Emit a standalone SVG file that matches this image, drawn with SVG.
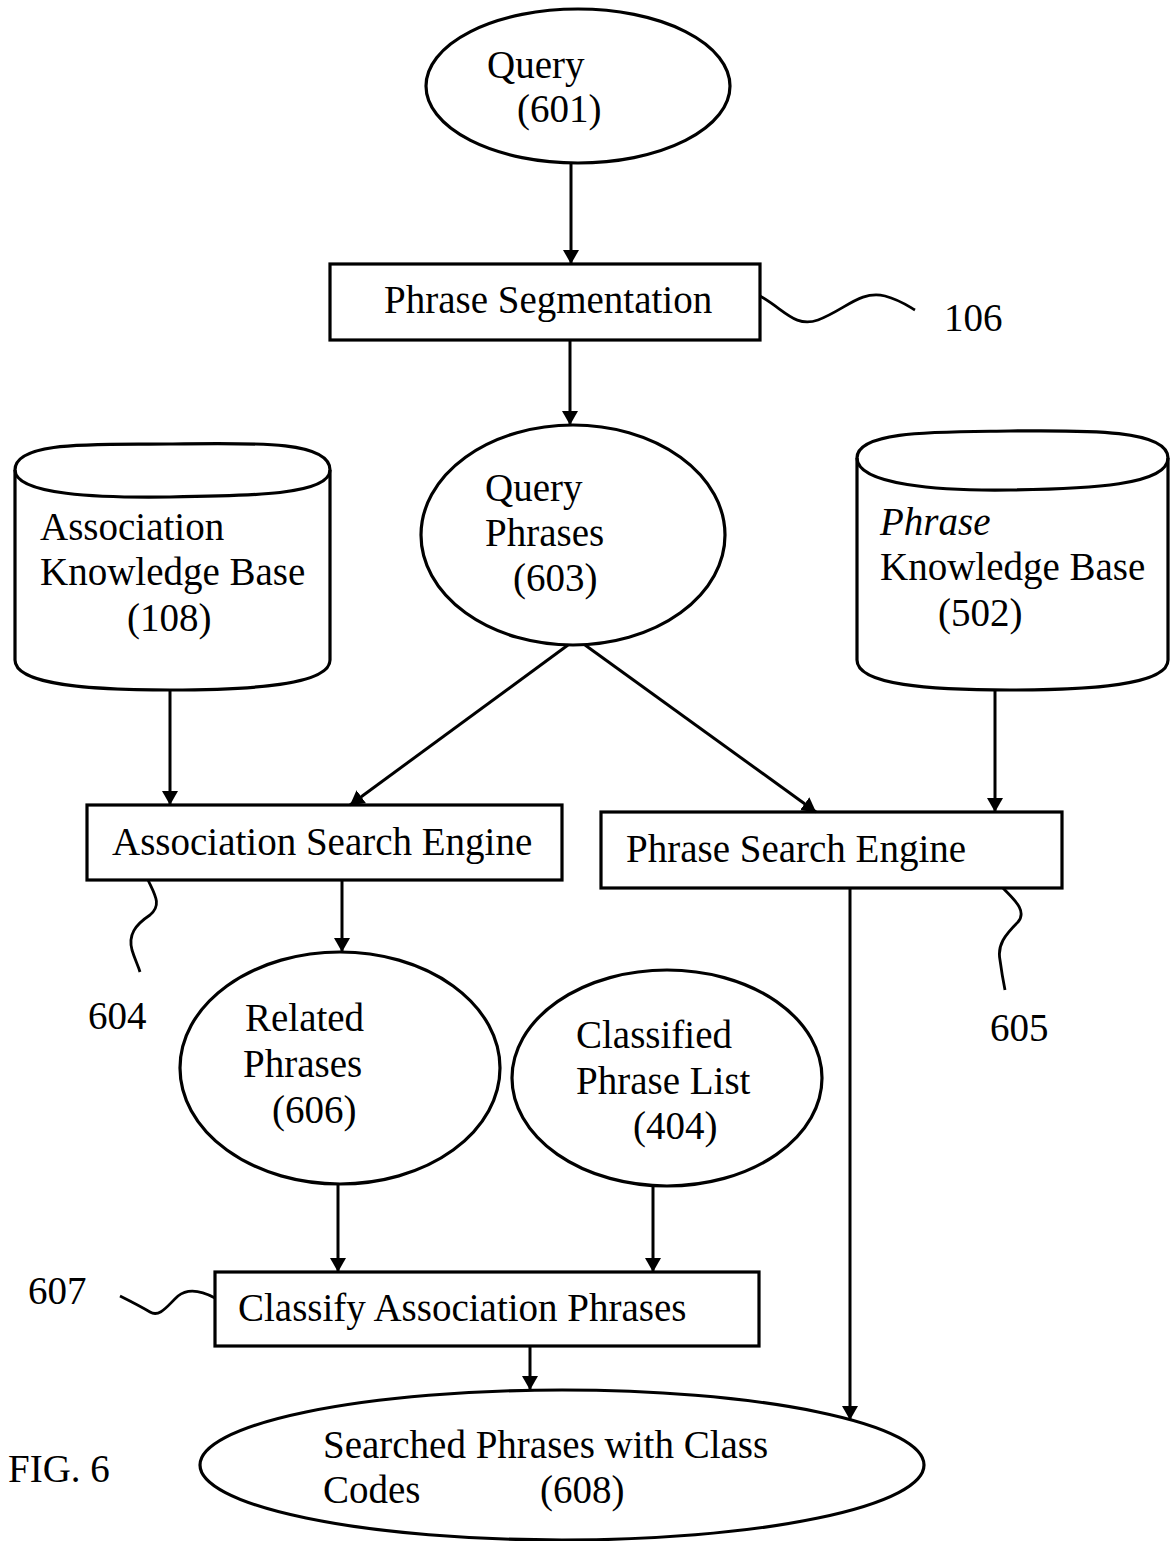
<svg xmlns="http://www.w3.org/2000/svg" width="1170" height="1541" viewBox="0 0 1170 1541">
  <style>
    .shape { fill: none; stroke: #000; stroke-width: 3.2; }
    .wire { fill: none; stroke: #000; stroke-width: 3; }
    .lead { fill: none; stroke: #000; stroke-width: 2.8; }
    text { font-family: "Liberation Serif", "Times New Roman", serif; font-size: 39px; fill: #000; }
  </style>
  <defs>
    <marker id="arrow" viewBox="0 0 14 22" refX="14" refY="11" markerWidth="14" markerHeight="22" markerUnits="userSpaceOnUse" orient="auto">
      <path d="M0,3 L14,11 L0,19 Z" fill="#000"/>
    </marker>
  </defs>
  <rect width="1170" height="1541" fill="#fff"/>

  <!-- Query (601) -->
  <g id="query">
    <ellipse class="shape" cx="578" cy="86" rx="152" ry="77"/>
    <text x="487" y="78">Query</text>
    <text x="517" y="122">(601)</text>
  </g>

  <!-- Phrase Segmentation (106) -->
  <g id="phrase-segmentation">
    <rect class="shape" x="330" y="264" width="430" height="76"/>
    <text x="384" y="313">Phrase Segmentation</text>
    <path class="lead" d="M760,296 C785,310 795,328 818,320 C845,310 860,290 885,296 C900,300 908,306 915,310"/>
    <text x="944" y="331">106</text>
  </g>

  <!-- Query Phrases (603) -->
  <g id="query-phrases">
    <ellipse class="shape" cx="573" cy="535" rx="152" ry="110"/>
    <text x="485" y="501">Query</text>
    <text x="485" y="546">Phrases</text>
    <text x="513" y="591">(603)</text>
  </g>

  <!-- Association Knowledge Base (108) -->
  <g id="association-kb">
    <path class="shape" d="M15,470 C15,440 100,445 170,444 C250,443 330,440 330,470 L330,660 C330,685 250,690 170,690 C90,690 15,685 15,660 Z"/>
    <path class="shape" d="M15,470 C15,495 100,498 170,497 C250,496 330,495 330,470"/>
    <text x="40" y="540">Association</text>
    <text x="40" y="585">Knowledge Base</text>
    <text x="127" y="631">(108)</text>
  </g>

  <!-- Phrase Knowledge Base (502) -->
  <g id="phrase-kb">
    <path class="shape" d="M857,458 C857,430 940,432 1010,431 C1090,430 1168,430 1168,458 L1168,660 C1168,685 1090,690 1010,690 C930,690 857,685 857,660 Z"/>
    <path class="shape" d="M857,458 C857,485 940,491 1010,490 C1090,489 1168,485 1168,458"/>
    <text x="880" y="535" font-style="italic">Phrase</text>
    <text x="880" y="580">Knowledge Base</text>
    <text x="938" y="626">(502)</text>
  </g>

  <!-- Association Search Engine (604) -->
  <g id="association-search">
    <rect class="shape" x="87" y="805" width="475" height="75"/>
    <text x="112" y="855">Association Search Engine</text>
    <path class="lead" d="M148,880 C155,895 162,905 150,915 C135,925 128,935 132,950 C135,960 138,965 140,972"/>
    <text x="88" y="1029">604</text>
  </g>

  <!-- Phrase Search Engine (605) -->
  <g id="phrase-search">
    <rect class="shape" x="601" y="812" width="461" height="76"/>
    <text x="626" y="862">Phrase Search Engine</text>
    <path class="lead" d="M1003,888 C1012,898 1028,910 1018,922 C1005,935 997,945 1000,960 C1002,975 1004,985 1005,990"/>
    <text x="990" y="1041">605</text>
  </g>

  <!-- Related Phrases (606) -->
  <g id="related-phrases">
    <ellipse class="shape" cx="340" cy="1068" rx="160" ry="116"/>
    <text x="245" y="1031">Related</text>
    <text x="243" y="1077">Phrases</text>
    <text x="272" y="1123">(606)</text>
  </g>

  <!-- Classified Phrase List (404) -->
  <g id="classified-list">
    <ellipse class="shape" cx="667" cy="1078" rx="155" ry="108"/>
    <text x="576" y="1048">Classified</text>
    <text x="576" y="1094">Phrase List</text>
    <text x="633" y="1139">(404)</text>
  </g>

  <!-- Classify Association Phrases (607) -->
  <g id="classify-association">
    <rect class="shape" x="215" y="1272" width="544" height="74"/>
    <text x="238" y="1321">Classify Association Phrases</text>
    <path class="lead" d="M215,1298 C200,1290 188,1288 178,1296 C168,1305 160,1318 150,1312 C140,1306 128,1300 120,1296"/>
    <text x="28" y="1304">607</text>
  </g>

  <!-- Searched Phrases with Class Codes (608) -->
  <g id="searched-phrases">
    <ellipse class="shape" cx="562" cy="1465" rx="362" ry="75"/>
    <text x="323" y="1458">Searched Phrases with Class</text>
    <text x="323" y="1503">Codes</text>
    <text x="540" y="1503">(608)</text>
  </g>

  <text id="fig-label" x="8" y="1482">FIG. 6</text>

  <!-- Flow connectors -->
  <g id="connectors">
    <line class="wire" x1="571" y1="163" x2="571" y2="264" marker-end="url(#arrow)"/>
    <line class="wire" x1="570" y1="340" x2="570" y2="425" marker-end="url(#arrow)"/>
    <line class="wire" x1="568" y1="645" x2="350" y2="805" marker-end="url(#arrow)"/>
    <line class="wire" x1="585" y1="645" x2="816" y2="812" marker-end="url(#arrow)"/>
    <line class="wire" x1="170" y1="690" x2="170" y2="805" marker-end="url(#arrow)"/>
    <line class="wire" x1="995" y1="690" x2="995" y2="812" marker-end="url(#arrow)"/>
    <line class="wire" x1="342" y1="880" x2="342" y2="952" marker-end="url(#arrow)"/>
    <line class="wire" x1="850" y1="888" x2="850" y2="1420" marker-end="url(#arrow)"/>
    <line class="wire" x1="338" y1="1184" x2="338" y2="1272" marker-end="url(#arrow)"/>
    <line class="wire" x1="653" y1="1186" x2="653" y2="1272" marker-end="url(#arrow)"/>
    <line class="wire" x1="530" y1="1346" x2="530" y2="1390" marker-end="url(#arrow)"/>
  </g>
</svg>
